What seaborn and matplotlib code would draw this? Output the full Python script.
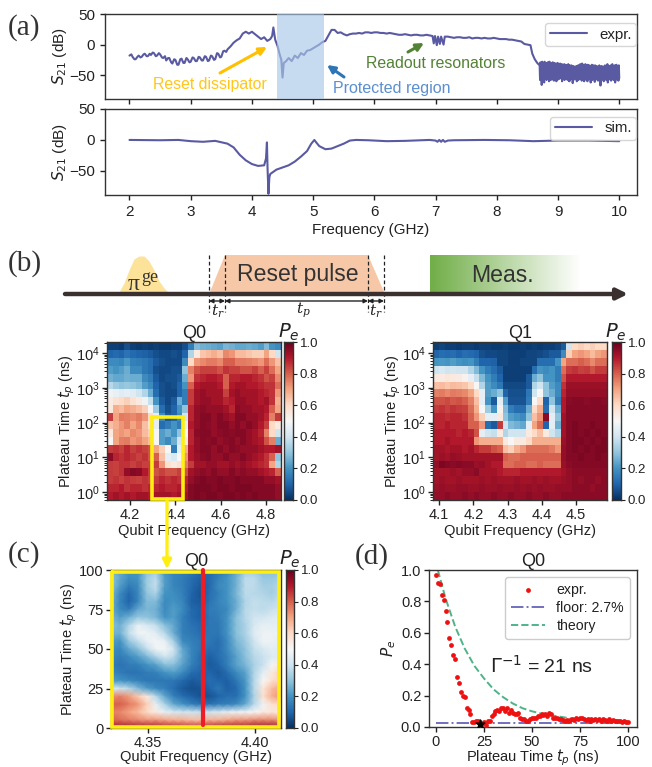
import numpy as np
import matplotlib
matplotlib.use("Agg")
import matplotlib.pyplot as plt
import seaborn as sns

sns.set_style("ticks")
plt.rcParams['font.family'] = ['Liberation Sans', 'DejaVu Sans']
plt.rcParams['mathtext.fontset'] = 'dejavusans'
plt.rcParams['axes.edgecolor'] = '#333333'
plt.rcParams['axes.linewidth'] = 1.0
plt.rcParams['xtick.color'] = '#222222'
plt.rcParams['ytick.color'] = '#222222'
plt.rcParams['text.color'] = '#222222'
plt.rcParams['axes.labelcolor'] = '#222222'

W, H = 652, 767
LINE = '#5a5aa2'

expr_f = [2.0,2.03,2.05,2.08,2.1,2.13,2.15,2.18,2.2,2.23,2.25,2.28,2.3,2.33,2.35,2.38,2.4,2.43,2.45,2.48,
          2.5,2.53,2.55,2.58,2.6,2.63,2.65,2.68,2.7,2.73,2.75,2.78,2.8,2.83,2.85,2.88,2.9,2.93,2.95,2.98,
          3.0,3.03,3.05,3.08,3.1,3.13,3.15,3.18,3.2,3.23,3.25,3.28,3.3,3.33,3.35,3.38,3.4,3.43,3.45,3.48,
          3.5,3.53,3.55,3.58,3.6,3.65,3.7,3.75,3.8,3.85,3.9,3.95,
          4.0,4.05,4.1,4.15,4.2,4.25,4.3,4.33,4.35,4.38,4.42,4.45,4.48,4.5,4.52,4.55,4.6,4.65,4.7,4.75,
          4.8,4.85,4.9,4.95,5.0,5.05,5.1,5.15,5.2,5.25,5.3,5.35,5.4,5.45,5.5,5.55,5.6,5.65,5.7,5.75,5.8,5.85,5.9,5.95,6.0,
          6.05,6.1,6.15,6.2,6.25,6.3,6.35,6.4,6.45,6.5,6.55,6.6,6.65,6.7,6.75,6.8,6.85,6.9,6.95,6.97,6.99,7.02,7.04,7.07,7.09,7.13,7.15,7.2,7.25,
          7.3,7.35,7.4,7.45,7.5,7.55,7.6,7.65,7.7,7.75,7.8,7.85,7.9,7.95,8.0,8.05,8.1,8.15,8.2,8.25,8.3,8.35,8.4,8.45,8.5,8.55,8.58,8.62,8.66]
expr_v = [-18,-16,-20,-24,-24,-20,-18,-21,-20,-16,-15,-19,-19,-15,-17,-13,-14,-19,-18,-14,
          -16,-21,-22,-19,-26,-22,-22,-29,-31,-24,-25,-33,-33,-24,-23,-30,-30,-22,-24,-29,
          -28,-21,-22,-27,-27,-20,-21,-26,-26,-19,-20,-27,-26,-18,-19,-25,-24,-14,-15,-21,
          -20,-11,-10,-12,-8,-3,3,7,10,18,21,18,
          21,17,13,9,12,6,9,14,28,8,-3,-15,-25,-54,-30,-28,-22,-27,-18,-22,
          -14,-17,-10,-9,-6,-3,0,4,6,15,24,24,19,20,17,15,17,18,18,19,18,20,20,19,20,
          20,19,19,18,19,18,17,16,16,17,16,15,16,16,15,15,16,15,14,2,14,-1,13,1,13,0,13,13,12,
          11,12,12,11,11,12,10,11,11,10,11,10,10,11,10,9,9,9,8,8,7,6,5,1,0,-1,-15,-24,-30]
noise_v = [-34,-58,-29,-48,-33,-66,-28,-52,-32,-44,-31,-62,-28,-52,-34,-42,-30,-58,-31,-47,-29,-56,-34,-60,-28,
           -45,-31,-58,-30,-50,-33,-57,-29,-43,-32,-59,-30,-49,-35,-55,-31,-60,-32,-46,-30,-57,-34,-48,-32,-56,
           -31,-51,-34,-44,-32,-60,-33,-55,-35,-50,-32,-58,-36,-47,-33,-56,-34,-57,-36,-49,-32,-59,-35,-60,-34,
           -46,-37,-56,-34,-54,-36,-63,-35,-48,-38,-57,-36,-54,-39,-50,-35,-60,-38,-47,-34,-58,-40,-54,-33,-56,
           -32,-50,-34,-59,-31,-46,-36,-55,-33,-60,-35,-49,-32,-57,-37,-51,-34,-60,-33,-47,-36,-56,-34,-54,-38,
           -62,-35,-48,-33,-58,-37,-50,-34,-55,-36,-61,-34,-46,-38,-57,-35,-51,-37,-59,-39,-49,-34,-56,-36,-67,
           -38,-50,-35,-57,-40,-54,-36,-60,-38,-48,-34,-55,-39,-58,-36,-50,-32,-62,-38,-51,-35,-57,-40,-49,-34,
           -59,-37,-55,-32,-50,-39,-58,-36,-48,-34,-62,-38,-54,-33,-57,-40,-50,-35,-59,-34,-55]
noise_f = list(np.linspace(8.7, 10.0, len(noise_v)))

sim_f = [2.0,2.5,2.8,3.0,3.2,3.4,3.6,3.7,3.8,3.9,4.0,4.1,4.2,4.23,4.245,4.255,4.27,4.285,4.3,4.4,
         4.6,4.7,4.8,4.9,4.97,5.02,5.05,5.1,5.2,5.3,5.4,5.5,5.6,5.7,5.9,6.2,6.5,6.9,7.0,7.03,7.06,7.09,7.12,7.15,7.2,7.3,7.8,8.2,8.6,9.0,9.5,10.0]
sim_v = [0,-0.5,0,-2,-3,-1.5,-6,-12,-24,-33,-39,-42,-41,-30,-4,-45,-87,-60,-55,-48,
         -41,-35,-27,-18,-6,0,-4,-10,-15,-14,-10,-6,-1,0,-0.5,-2,-1.5,0,-1,-3,0,-3,0,-3,-1,-0.5,0,-0.5,-2,-1,-1,-2]

q0_map = [
 [3,3,2,6,3,2,3,2,3,2,2,3,3,6,15,28,26,25,24,23,27,26,24,24,25,24,22,28,20,18],
 [10,11,10,13,11,10,9,8,6,5,5,6,5,10,35,55,64,66,68,65,74,72,66,66,64,62,62,70,60,40],
 [18,18,17,21,16,15,14,12,8,6,5,5,5,18,60,72,74,76,76,74,80,80,76,76,75,74,72,78,72,65],
 [22,20,22,25,18,18,14,12,6,5,5,6,6,30,75,82,84,84,84,82,86,84,84,82,82,84,80,84,78,70],
 [26,24,24,26,25,25,18,15,8,5,6,6,8,25,72,86,88,90,90,88,80,88,88,90,90,88,86,82,84,74],
 [36,32,30,31,30,28,22,18,10,6,5,6,10,20,80,90,92,92,92,90,80,90,92,92,90,90,88,86,86,78],
 [48,46,44,45,44,40,35,25,12,6,5,5,10,15,85,92,94,92,92,92,84,92,94,92,92,92,90,88,86,72],
 [54,58,60,62,58,55,48,38,20,8,5,8,25,15,85,92,94,94,92,92,88,90,94,94,92,92,90,92,86,68],
 [55,68,66,70,68,66,62,50,32,12,6,10,20,30,88,94,95,94,94,94,92,88,95,94,94,92,92,90,80,70],
 [85,70,76,75,74,76,72,60,45,18,8,10,18,40,88,94,96,96,94,96,94,92,96,96,94,94,92,88,75,85],
 [65,68,72,75,70,74,65,58,45,12,15,20,15,45,90,94,96,95,94,96,96,94,96,94,96,94,90,84,60,55],
 [55,70,72,70,74,72,66,62,50,22,25,20,30,50,88,95,96,96,94,95,96,95,96,96,94,92,88,75,60,40],
 [50,70,75,76,72,74,70,66,50,22,18,25,40,55,88,94,96,95,96,94,95,96,94,96,94,92,90,82,75,25],
 [85,86,84,88,84,86,84,82,70,62,50,15,45,68,90,94,96,96,94,96,94,96,95,94,94,94,92,90,90,92],
 [95,88,86,88,86,84,86,82,80,65,45,42,50,72,90,93,95,96,94,94,96,94,94,96,94,92,90,86,80,30],
 [85,84,86,86,84,86,84,84,85,72,58,55,58,75,85,92,92,94,94,92,92,94,92,94,92,90,88,86,70,35],
 [85,84,86,94,96,95,90,85,82,84,82,82,84,82,92,94,95,94,96,94,94,96,94,95,94,94,92,90,88,80],
 [85,86,84,86,85,84,86,84,85,88,86,88,86,88,94,96,97,96,96,97,96,96,97,96,96,96,96,94,94,92],
 [88,88,90,86,88,88,86,88,88,90,88,88,90,90,96,97,97,97,96,97,97,96,97,97,97,96,96,96,96,94],
 [90,92,90,92,90,92,92,90,92,92,92,90,92,92,96,97,96,97,97,96,97,97,96,97,96,97,96,96,96,94],
]

q1_map = [
 [3,4,3,3,2,3,3,2,3,3,2,2,3,2,2,3,2,3,2,3,3,4,8,40,60,62,60,62,60,60],
 [10,12,11,12,10,12,11,10,6,5,5,4,4,3,3,3,4,4,5,6,8,8,18,62,70,72,70,66,70,72],
 [20,21,20,22,20,19,20,15,10,10,9,4,4,3,3,4,4,4,12,12,12,20,70,78,78,80,78,74,78,78],
 [40,42,40,41,40,40,35,28,20,15,12,8,3,3,3,3,3,12,20,18,20,15,78,85,86,84,85,82,85,85],
 [55,54,56,55,54,52,45,38,28,20,15,10,3,3,3,3,8,25,30,20,20,15,82,90,90,90,90,90,90,90],
 [65,66,64,66,65,64,60,50,35,22,18,14,5,5,5,5,8,35,40,30,22,18,86,93,93,93,93,93,93,93],
 [75,76,74,76,75,74,70,60,45,22,25,30,10,6,6,6,14,40,50,30,25,18,88,94,94,94,94,94,94,94],
 [82,82,83,81,82,80,75,65,45,20,8,45,22,7,7,7,15,50,60,10,30,15,90,95,96,96,95,96,96,95],
 [85,86,84,86,85,84,78,68,50,32,20,52,28,15,12,12,25,60,68,12,40,25,90,96,96,96,96,96,96,96],
 [88,88,87,88,88,86,80,72,62,45,45,55,30,22,20,18,30,65,72,95,45,30,92,96,96,96,96,96,96,96],
 [88,88,90,88,88,88,80,80,72,12,8,85,40,28,26,24,45,70,78,10,45,25,92,96,97,96,96,97,96,96],
 [90,90,90,90,88,90,88,82,45,40,38,55,35,40,40,40,55,60,65,55,40,35,92,96,97,96,97,96,97,96],
 [90,90,92,90,90,90,90,72,68,68,68,68,55,50,55,55,60,68,68,68,68,68,93,96,97,97,96,97,96,97],
 [92,92,91,92,92,90,92,88,85,85,82,80,65,62,68,72,78,78,78,78,76,72,94,96,97,96,97,96,97,97],
 [92,93,92,94,93,92,92,92,92,92,92,92,80,78,78,80,80,80,80,80,80,80,94,96,96,97,96,96,97,96],
 [94,97,96,95,96,95,95,93,94,92,90,90,78,78,80,80,78,78,80,78,78,78,93,95,96,96,96,96,96,96],
 [92,92,92,93,92,94,94,95,92,92,92,90,88,88,88,90,90,90,90,90,90,90,92,94,95,95,95,95,95,95],
 [92,93,92,92,93,92,92,92,93,92,93,92,92,92,93,92,92,93,92,93,92,92,93,94,95,94,95,95,94,95],
 [93,94,93,93,94,94,93,93,94,93,93,94,93,93,94,93,94,93,94,93,93,94,94,94,95,95,95,94,95,95],
 [94,94,95,94,94,95,94,95,94,94,95,94,94,95,94,94,95,94,94,95,94,94,95,95,95,95,95,95,95,95],
]

zoom_map = [
 [27,24,20,20,29,32,20,17,16,14,10,11,14,17,24,32,32,29,29,29],
 [30,24,19,20,32,37,22,17,15,12,9,11,16,20,26,37,37,31,31,33],
 [30,22,15,18,32,38,22,17,15,11,8,11,18,20,26,37,37,33,33,36],
 [27,18,11,17,30,34,20,19,16,10,7,12,16,20,27,37,36,35,33,37],
 [26,17,10,17,28,28,18,20,17,9,8,13,17,20,25,35,38,37,36,39],
 [25,18,15,24,27,26,18,22,18,11,9,15,16,18,26,36,38,37,39,41],
 [27,22,26,31,30,27,20,22,16,11,9,14,15,20,29,36,40,41,43,45],
 [29,26,35,46,42,38,29,24,16,13,11,14,14,20,29,34,42,46,45,45],
 [26,26,38,48,48,44,36,25,16,14,12,14,14,20,29,34,44,47,47,47],
 [22,20,31,38,46,49,46,33,18,16,14,14,12,18,27,32,40,48,47,45],
 [19,17,24,29,38,48,49,40,24,17,14,12,12,18,25,30,38,42,45,43],
 [17,15,18,22,27,34,40,36,25,17,12,9,12,16,23,29,36,39,43,43],
 [15,13,15,16,20,23,29,29,23,16,12,8,10,16,23,27,34,39,49,55],
 [17,15,13,13,15,16,20,22,18,12,10,10,8,12,18,23,35,45,55,62],
 [22,20,18,16,14,14,14,14,11,8,9,12,10,9,14,21,36,50,58,62],
 [42,40,36,28,22,18,16,12,8,6,7,10,14,9,11,20,36,56,66,70],
 [73,75,71,63,55,36,24,16,12,9,7,7,10,12,12,20,34,58,68,72],
 [80,80,76,72,62,46,34,24,20,16,13,13,15,16,18,24,36,48,58,60],
 [76,74,70,66,60,54,46,42,40,40,38,40,42,45,47,48,50,54,56,54],
 [80,78,76,74,72,72,70,68,68,66,66,68,68,70,72,72,74,74,74,72],
 [92,92,92,92,92,92,90,90,88,88,88,90,92,92,92,92,94,94,94,94],
]

decay_t = [0,1,2,3,4,5,6,7,8,9,10,11,12,13,14,15,16,17,18,19,20,21,22,23,24,25,26,27,28,29,30,31,32,33,34,35,36,37,38,39,
           40,41,42,43,44,45,46,47,48,49,50,51,52,53,54,55,56,57,58,59,60,61,62,63,64,65,66,67,68,69,70,71,72,73,74,75,76,77,78,79,
           80,81,82,83,84,85,86,87,88,89,90,91,92,93,94,95,96,97,98,99,100]
decay_p = [.97,.92,.91,.84,.81,.74,.67,.57,.52,.46,.43,.32,.28,.22,.20,.19,.12,.11,.08,.03,.035,.04,.04,.03,.02,.03,.015,.04,.04,.07,.08,.10,.11,.10,.12,.12,.10,.12,.09,.11,
           .09,.08,.08,.09,.055,.05,.05,.04,.04,.05,.06,.055,.06,.07,.07,.08,.075,.08,.07,.09,.085,.06,.055,.055,.05,.05,.045,.04,.045,.04,.045,.05,.045,.06,.05,.055,.055,.05,.045,.05,
           .04,.05,.045,.05,.045,.05,.04,.05,.045,.04,.05,.04,.045,.04,.04,.04,.04,.035,.04,.035,.03]
theory_t = [1,5,10,15,20,25,30,35,40,45,50,55,60,65,70,75,80,85,90,95,100]
theory_p = [1.0,.82,.64,.50,.39,.31,.24,.19,.15,.12,.10,.085,.075,.065,.055,.05,.045,.04,.04,.035,.03]
floor_t = [0,100]
floor_p = [.027,.027]
min_t = [23]
min_p = [.02]

s21_yticks = [-50, 0, 50]
s21_xticks = [2,3,4,5,6,7,8,9,10]
cb_ticks = [0,.2,.4,.6,.8,1.0]

fig = plt.figure(figsize=(W/100, H/100), dpi=100, facecolor='white')

def box(l, t, r, b):
    return [l/W, 1-b/H, (r-l)/W, (b-t)/H]

# (a)
a1 = fig.add_axes(box(105, 14, 637, 99))
a2 = fig.add_axes(box(105, 109, 637, 195))
sns.lineplot(x=expr_f+noise_f, y=expr_v+noise_v, sort=False, estimator=None, color=LINE, lw=1.5, ax=a1, label='expr.')
a1.axvspan(4.41, 5.18, color='#a9c8e8', alpha=.65, lw=0, zorder=5)
sns.lineplot(x=sim_f, y=sim_v, sort=False, estimator=None, color=LINE, lw=1.5, ax=a2, label='sim.')
for a, top in ((a1, .894), (a2, .907)):
    a.set_xlim(1.6, 10.29)
    a.set_ylim(-89, 50)
    a.set_yticks(s21_yticks)
    a.set_xticks(s21_xticks)
    a.tick_params(labelsize=11, length=3.5, width=1)
    a.set_ylabel(r'$S_{21}$ (dB)', fontsize=11, labelpad=0)
    a.legend(loc='upper right', fontsize=10.8, frameon=True, framealpha=.8, handlelength=2.5, borderpad=.3,
             edgecolor='#cccccc', fancybox=True, bbox_to_anchor=(.999, top), borderaxespad=0)
a1.set_xticklabels([])
a2.set_xlabel('Frequency (GHz)', fontsize=11, labelpad=3)

def colorbar_fmt(cax):
    cax.tick_params(labelsize=9.5, length=3, width=.8, pad=2)
    cax.set_yticks(cb_ticks)
    cax.set_yticklabels(['%.1f' % v for v in cb_ticks])
    for s in cax.spines.values():
        s.set_visible(True)

def log_heat(ax, cax, mat, xl, yl, xt, xtl):
    arr = np.array(mat) / 100.
    sns.heatmap(arr, ax=ax, cbar_ax=cax, cmap='RdBu_r', vmin=0, vmax=1, xticklabels=False, yticklabels=False)
    nr, nc = arr.shape
    ypos = lambda t: nr * (1 - (np.log10(t) - yl[0]) / (yl[1] - yl[0]))
    ax.set_xticks([(f - xl[0]) / (xl[1] - xl[0]) * nc for f in xt])
    ax.set_xticklabels(xtl)
    dec = [1, 10, 100, 1000, 10000]
    ax.set_yticks([ypos(t) for t in dec])
    ax.set_yticklabels([r'$\mathdefault{10^{%d}}$' % k for k in range(5)])
    minor = [m * 10**k for k in range(-1, 5) for m in range(2, 10)]
    minor = [t for t in minor if yl[0] < np.log10(t) < yl[1]]
    ax.set_yticks([ypos(t) for t in minor], minor=True)
    ax.tick_params(axis='both', which='major', labelsize=10.5, left=True, bottom=True, length=3.5, width=1, rotation=0, pad=2)
    ax.tick_params(axis='y', which='minor', left=True, length=2, width=.7)
    ax.set_xlabel('Qubit Frequency (GHz)', fontsize=10.5, labelpad=2)
    ax.set_ylabel(r'Plateau Time $t_p$ (ns)', fontsize=10.5, labelpad=-1)
    for s in ax.spines.values():
        s.set_visible(True)
    colorbar_fmt(cax)

b1 = fig.add_axes(box(107, 342, 281, 500)); c1 = fig.add_axes(box(284, 342, 293, 500))
b2 = fig.add_axes(box(433, 342, 607, 500)); c2 = fig.add_axes(box(612, 342, 621, 500))
log_heat(b1, c1, q0_map, (4.098, 4.866), (-0.23, 4.32), [4.2, 4.4, 4.6, 4.8], ['4.2', '4.4', '4.6', '4.8'])
log_heat(b2, c2, q1_map, (4.082, 4.591), (-0.23, 4.32), [4.1, 4.2, 4.3, 4.4, 4.5], ['4.1', '4.2', '4.3', '4.4', '4.5'])
b1.set_title('Q0', fontsize=13, pad=3)
b2.set_title('Q1', fontsize=13, pad=3)

# (c)
c_ax = fig.add_axes(box(111, 570, 281, 728)); c3 = fig.add_axes(box(286, 570, 294, 728))
arr = np.array(zoom_map) / 100.
sns.heatmap(arr, ax=c_ax, cbar_ax=c3, cmap='RdBu_r', vmin=0, vmax=1, xticklabels=False, yticklabels=False, shading='gouraud')
nr, nc = arr.shape
c_ax.set_xlim(0, nc-1)
c_ax.set_ylim(nr-1, 0)
xl = (4.3327, 4.412)
c_ax.set_xticks([(f - xl[0]) / (xl[1] - xl[0]) * (nc-1) for f in [4.35, 4.40]])
c_ax.set_xticklabels(['4.35', '4.40'])
c_ax.set_yticks([(100 - t) / 100 * (nr-1) for t in [0, 25, 50, 75, 100]])
c_ax.set_yticklabels(['0', '25', '50', '75', '100'])
c_ax.tick_params(labelsize=10.5, left=True, bottom=True, length=3.5, width=1, rotation=0, pad=2)
c_ax.set_xlabel('Qubit Frequency (GHz)', fontsize=10.5, labelpad=0)
c_ax.set_ylabel(r'Plateau Time $t_p$ (ns)', fontsize=10.5, labelpad=0)
for s in c_ax.spines.values():
    s.set_visible(True)
colorbar_fmt(c3)
c_ax.set_title('Q0', fontsize=13, pad=3)

# (d)
d = fig.add_axes(box(429, 570, 637, 727))
sns.scatterplot(x=decay_t, y=decay_p, color='#ee1111', s=12, linewidth=0, ax=d, label='expr.', zorder=3)
sns.lineplot(x=floor_t, y=floor_p, color='#7070c0', lw=1.4, ax=d, label='floor: 2.7%', linestyle='-.')
sns.lineplot(x=theory_t, y=theory_p, color='#4fb38a', lw=1.4, ax=d, label='theory', linestyle='--')
d.scatter(min_t, min_p, marker='*', s=42, color='black', zorder=4)
d.set_xlim(-3.6, 104.7)
d.set_ylim(0, 1)
d.set_xticks([0, 25, 50, 75, 100])
d.set_yticks(cb_ticks)
d.tick_params(labelsize=10.5, length=3.5, width=1, pad=2)
d.set_xlabel(r'Plateau Time $t_p$ (ns)', fontsize=10.5, labelpad=-1)
d.set_ylabel(r'$P_e$', fontsize=11, labelpad=2)
d.set_title('Q0', fontsize=13, pad=3)
d.legend(loc='upper right', fontsize=10.2, frameon=True, framealpha=1, edgecolor='#cccccc', fancybox=True, handlelength=2.4,
         bbox_to_anchor=(.965, .955), borderaxespad=0, labelspacing=.3)

# overlay
o = fig.add_axes([0, 0, 1, 1], facecolor='none', zorder=20)
o.set_axis_off()

def arrow(p0, p1, color, lw=2.2, ms=11):
    o.annotate('', xy=p1, xytext=p0, arrowprops=dict(arrowstyle='-|>', color=color, lw=lw, mutation_scale=ms, shrinkA=0, shrinkB=0))

for txt, x, y in [('(a)', 8, 28), ('(b)', 8, 264), ('(c)', 8, 555), ('(d)', 355, 557)]:
    o.text(x, y, txt, family='Liberation Serif', fontsize=21, va='center', ha='left', color='#333333')

o.text(210, 85, 'Reset dissipator', color='#ffc61a', fontsize=11.4, ha='center', va='center')
arrow((220, 73), (267, 47), '#ffc000')
o.text(392, 89, 'Protected region', color='#5b8fd0', fontsize=11.5, ha='center', va='center')
arrow((344, 77), (327, 65), '#2e75b6')
o.text(436, 63, 'Readout resonators', color='#548235', fontsize=11.4, ha='center', va='center')
arrow((408, 52), (424, 43), '#548235')

# (b) sequence
px = [119, 124, 129, 134, 139, 144, 149, 154, 159, 164, 168]
py = [292, 283, 270, 259, 256, 256, 261, 270, 281, 288, 292]
o.fill_between(px, py, 292, color='#fde39a', lw=0)
o.fill([210, 225, 368, 384], [292, 255, 255, 292], color='#f7c8a8', lw=0)
grad = np.ones((1, 256, 4))
grad[..., 0], grad[..., 1], grad[..., 2] = 0.44, 0.68, 0.28
grad[..., 3] = np.linspace(1, 0, 256)
o.imshow(grad, extent=(430, 581, 292, 255), aspect='auto', zorder=1)
o.annotate('', xy=(628, 294), xytext=(65, 294), arrowprops=dict(arrowstyle='-|>', color='#3a3030', lw=3.2, mutation_scale=16, shrinkA=0, shrinkB=0))
for x in (209, 225, 368, 384):
    o.plot([x, x], [255, 312], color='#222222', lw=.9, ls=(0, (3, 2)))
for x0, x1 in ((209, 225), (225, 368), (368, 384)):
    o.annotate('', xy=(x1, 301), xytext=(x0, 301), arrowprops=dict(arrowstyle='<|-|>', color='#222222', lw=1, mutation_scale=6, shrinkA=0, shrinkB=0))
o.text(134, 284, 'π', family='Liberation Serif', fontsize=17, ha='center', va='center', color='#333333')
o.text(150, 277, 'ge', family='Liberation Serif', fontsize=13, ha='center', va='center', color='#333333')
o.text(298, 275, 'Reset pulse', fontsize=16.6, ha='center', va='center', color='#333333')
o.text(502, 275, 'Meas.', fontsize=16.6, ha='center', va='center', color='#333333')
o.text(218, 311, r'$t_r$', fontsize=11, ha='center', va='center', math_fontfamily='dejavuserif')
o.text(303, 310, r'$t_p$', fontsize=11, ha='center', va='center', math_fontfamily='dejavuserif')
o.text(376, 311, r'$t_r$', fontsize=11, ha='center', va='center', math_fontfamily='dejavuserif')

# Pe labels
for x, y in [(289, 332), (616, 332), (290, 559)]:
    o.text(x, y, r'$P_e$', fontsize=14, ha='center', va='center')

# yellow / red marks
o.plot([152, 183, 183, 152, 152], [417, 417, 499, 499, 417], color='#ffee11', lw=2.6, solid_joinstyle='miter')
arrow((167, 499), (167, 569), '#ffee11', lw=2.4, ms=13)
o.plot([111.5, 279, 279, 111.5, 111.5], [572, 572, 727, 727, 572], color='#ffee11', lw=2.6, solid_joinstyle='miter')
o.plot([203, 203], [570, 725], color='#ee1c25', lw=3)
o.text(542, 666, r'$\Gamma^{-1}$ = 21 ns', fontsize=14, ha='center', va='center')

o.set_xlim(0, W)
o.set_ylim(H, 0)

fig.savefig('out.png', dpi=100)
